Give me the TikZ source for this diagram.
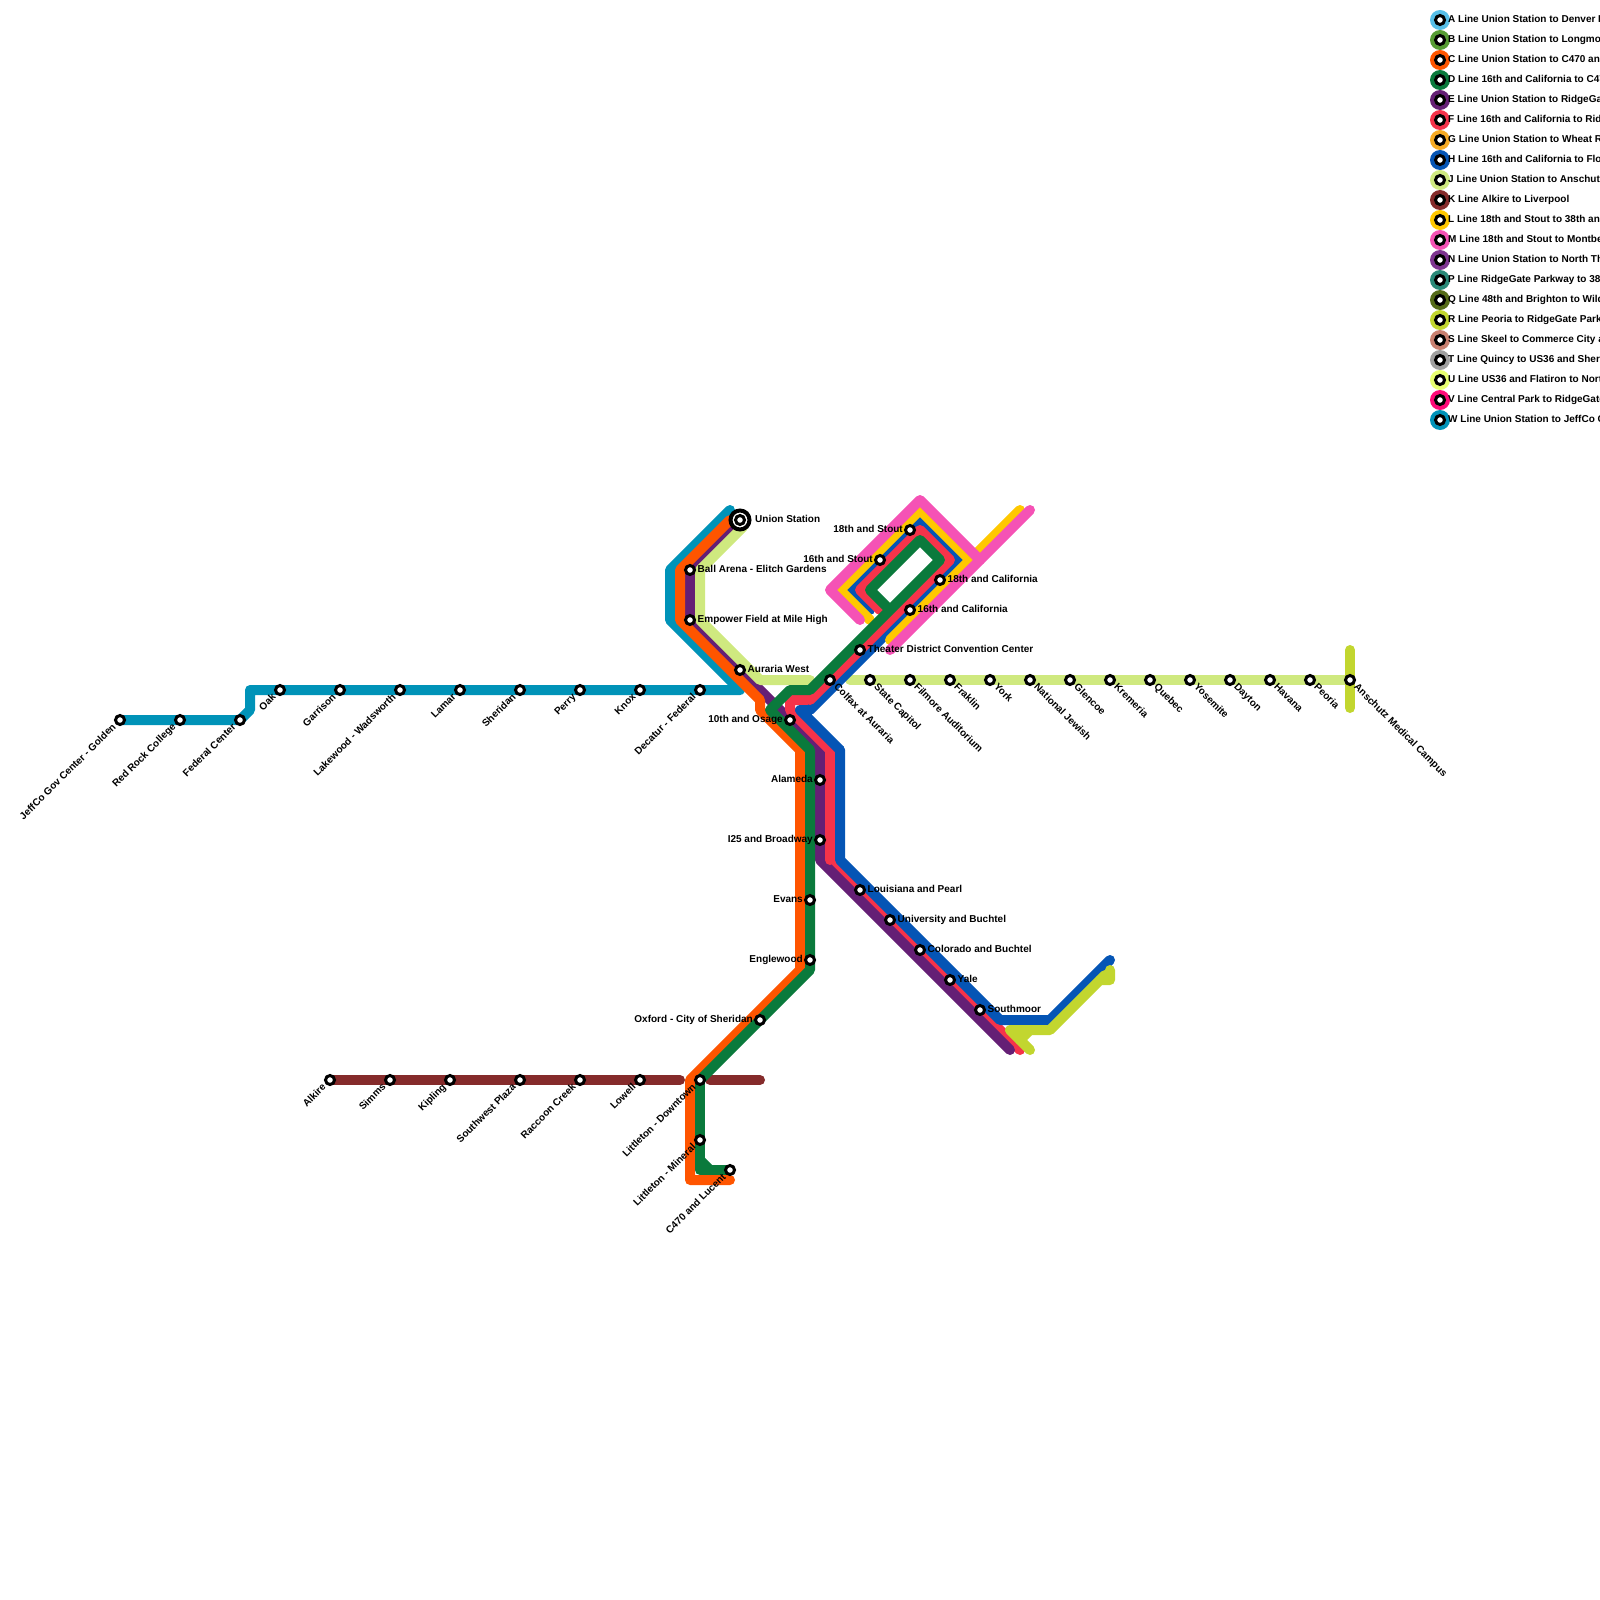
\documentclass[tikz,border=0pt]{standalone}
\usepackage{fontspec}
\setmainfont{Liberation Sans}
\pgfdeclarelayer{bg}
\pgfsetlayers{bg,main}
\definecolor{cA}{HTML}{57BFE8}
\definecolor{cB}{HTML}{569C33}
\definecolor{cC}{HTML}{FF5500}
\definecolor{cD}{HTML}{0A7A3C}
\definecolor{cE}{HTML}{651F75}
\definecolor{cF}{HTML}{F5334A}
\definecolor{cG}{HTML}{F7AB23}
\definecolor{cH}{HTML}{0555B5}
\definecolor{cJ}{HTML}{CFE97F}
\definecolor{cK}{HTML}{852B2B}
\definecolor{cL}{HTML}{FFC800}
\definecolor{cM}{HTML}{F552B5}
\definecolor{cN}{HTML}{7E3490}
\definecolor{cP}{HTML}{2A8A78}
\definecolor{cQ}{HTML}{556B18}
\definecolor{cR}{HTML}{C2D62F}
\definecolor{cS}{HTML}{C98070}
\definecolor{cT}{HTML}{A0A0A0}
\definecolor{cU}{HTML}{E8FF70}
\definecolor{cV}{HTML}{FF0A78}
\definecolor{cW}{HTML}{0093B8}
\tikzset{
  route/.style={line width=10pt,line cap=round,line join=round,draw=#1},
  stn/.style={circle,draw=black,fill=white,line width=3pt,minimum size=9pt,inner sep=0pt},
  hub/.style={circle,draw=black,fill=white,line width=4pt,minimum size=19pt,inner sep=0pt},
  disc/.style={circle,fill=#1,minimum size=20pt,inner sep=0pt},
  lbl/.style={inner sep=0pt,text height=7.2pt,text depth=0pt,font=\fontsize{10}{12}\selectfont\bfseries},
}
\newcommand\stR[4]{\node[stn] (#1) at (#2,#3) {}; \node[lbl,anchor=west] (#1-l) at (#2+7.5,#3-1) {#4};}
\newcommand\stL[4]{\node[stn] (#1) at (#2,#3) {}; \node[lbl,anchor=east] (#1-l) at (#2-7,#3-1) {#4};}
\newcommand\stDL[4]{\node[stn] (#1) at (#2,#3) {}; \node[lbl,anchor=east,rotate=45] (#1-l) at (#2-6,#3+5) {#4};}
\newcommand\stDR[4]{\node[stn] (#1) at (#2,#3) {}; \node[lbl,anchor=west,rotate=-45] (#1-l) at (#2+6,#3+5) {#4};}
\newcommand\leg[4]{\node[disc=c#1] (leg#1d) at (1440,#2) {}; \node[stn] (leg#1) at (1440,#2) {}; \node[lbl,anchor=west] (leg#1-l) at (1448,#2-1) {#3};}
\begin{document}
\begin{tikzpicture}[x=1pt,y=-1pt]
\useasboundingbox (0,0) rectangle (1600,1600);
\begin{scope}
\clip (0,0) rectangle (1600,1600);
\leg{A}{20}{A Line Union Station to Denver In}{}
\leg{B}{40}{B Line Union Station to Longmon}{}
\leg{C}{60}{C Line Union Station to C470 and}{}
\leg{D}{80}{D Line 16th and California to C470}{}
\leg{E}{100}{E Line Union Station to RidgeGat}{}
\leg{F}{120}{F Line 16th and California to Ridg}{}
\leg{G}{140}{G Line Union Station to Wheat Ri}{}
\leg{H}{160}{H Line 16th and California to Flor}{}
\leg{J}{180}{J Line Union Station to Anschutz}{}
\leg{K}{200}{K Line Alkire to Liverpool}{}
\leg{L}{220}{L Line 18th and Stout to 38th and}{}
\leg{M}{240}{M Line 18th and Stout to Montbel}{}
\leg{N}{260}{N Line Union Station to North Th}{}
\leg{P}{280}{P Line RidgeGate Parkway to 38t}{}
\leg{Q}{300}{Q Line 48th and Brighton to Wild}{}
\leg{R}{320}{R Line Peoria to RidgeGate Parkw}{}
\leg{S}{340}{S Line Skeel to Commerce City a}{}
\leg{T}{360}{T Line Quincy to US36 and Sherid}{}
\leg{U}{380}{U Line US36 and Flatiron to Nort}{}
\leg{V}{400}{V Line Central Park to RidgeGate}{}
\leg{W}{420}{W Line Union Station to JeffCo G}{}
\end{scope}
% stations
\stDL{jeffco}{120}{720}{JeffCo Gov Center - Golden}
\stDL{redrock}{180}{720}{Red Rock College}
\stDL{federal}{240}{720}{Federal Center}
\stDL{oak}{280}{690}{Oak}
\stDL{garrison}{340}{690}{Garrison}
\stDL{lakewood}{400}{690}{Lakewood - Wadsworth}
\stDL{lamar}{460}{690}{Lamar}
\stDL{sheridan}{520}{690}{Sheridan}
\stDL{perry}{580}{690}{Perry}
\stDL{knox}{640}{690}{Knox}
\stDL{decatur}{700}{690}{Decatur - Federal}
\stDL{alkire}{330}{1080}{Alkire}
\stDL{simms}{390}{1080}{Simms}
\stDL{kipling}{450}{1080}{Kipling}
\stDL{swplaza}{520}{1080}{Southwest Plaza}
\stDL{raccoon}{580}{1080}{Raccoon Creek}
\stDL{lowell}{640}{1080}{Lowell}
\stDL{downtown}{700}{1080}{Littleton - Downtown}
\stDL{mineral}{700}{1140}{Littleton - Mineral}
\stDL{lucent}{730}{1170}{C470 and Lucent}
\stR{ball}{690}{570}{Ball Arena - Elitch Gardens}
\stR{empower}{690}{620}{Empower Field at Mile High}
\stR{auraria}{740}{670}{Auraria West}
\stR{theater}{860}{650}{Theater District Convention Center}
\stR{cal16}{910}{610}{16th and California}
\stR{cal18}{940}{580}{18th and California}
\stR{louisiana}{860}{890}{Louisiana and Pearl}
\stR{university}{890}{920}{University and Buchtel}
\stR{colorado}{920}{950}{Colorado and Buchtel}
\stR{yale}{950}{980}{Yale}
\stR{southmoor}{980}{1010}{Southmoor}
\stL{stout18}{910}{530}{18th and Stout}
\stL{stout16}{880}{560}{16th and Stout}
\stL{osage}{790}{720}{10th and Osage}
\stL{alameda}{820}{780}{Alameda}
\stL{broadway}{820}{840}{I25 and Broadway}
\stL{evans}{810}{900}{Evans}
\stL{englewood}{810}{960}{Englewood}
\stL{oxford}{760}{1020}{Oxford - City of Sheridan}
\stDR{colfax}{830}{680}{Colfax at Auraria}
\stDR{capitol}{870}{680}{State Capitol}
\stDR{filmore}{910}{680}{Filmore Auditorium}
\stDR{franklin}{950}{680}{Fraklin}
\stDR{york}{990}{680}{York}
\stDR{jewish}{1030}{680}{National Jewish}
\stDR{glencoe}{1070}{680}{Glencoe}
\stDR{kremeria}{1110}{680}{Kremeria}
\stDR{quebec}{1150}{680}{Quebec}
\stDR{yosemite}{1190}{680}{Yosemite}
\stDR{dayton}{1230}{680}{Dayton}
\stDR{havana}{1270}{680}{Havana}
\stDR{peoria}{1310}{680}{Peoria}
\stDR{anschutz}{1350}{680}{Anschutz Medical Campus}
\node[hub] (unionring) at (740,520) {};
\node[stn] (union) at (740,520) {};
\node[lbl,anchor=west] (union-l) at (755,519) {Union Station};
% routes
\begin{pgfonlayer}{bg}
\draw[route=cF] (1020,1050) -- (830,860);
\draw[route=cW] (jeffco.center) -- (federal.center) -- (250,710) -- (250,690) -- (740,690) -- (670,620) -- (670,570) -- (730,510);
\draw[route=cE] (union.center) -- (ball.center) -- (empower.center) -- (820,750) -- (broadway.center) -- (820,860) -- (1010,1050);
\draw[route=cC] (730,520) -- (680,570) -- (680,620) -- (760,700) -- (760,710) -- (800,750) -- (800,970) -- (690,1080) -- (690,1180) -- (730,1180);
\draw[route=cJ] (743,527) -- (700,570) -- (700,620) -- (760,680) -- (810,680);
\draw[route=cJ] (850,680) -- (anschutz.center);
\draw[route=cR] (1350,650) -- (anschutz.center) -- (1350,708);
\draw[route=cK] (alkire.center) -- (680,1080);
\draw[route=cK] (710,1080) -- (760,1080);
\draw[route=cF] (830,860) -- (830,750) -- (790,710) -- (790,700) -- (810,700);
\draw[route=cH] (840,750) -- (800,710) -- (810,710) -- (960,560) -- (920,520) -- (850,590) -- (870,610);
\draw[route=cH] (840,750) -- (840,860) -- (1000,1020) -- (1050,1020) -- (1110,960);
\draw[route=cR] (1110,970) -- (1110,980) -- (1100,980) -- (1050,1030) -- (1010,1030) -- (1030,1050);
\draw[route=cR] (1020,1040) -- (1030,1030);
\draw[route=cR] (1105,975) -- (1100,980);
\draw[route=cL] (890,640) -- (1020,510);
\draw[route=cL] (970,560) -- (920,510) -- (840,590) -- (870,620);
\draw[route=cM] (890,650) -- (1030,510);
\draw[route=cM] (980,560) -- (920,500) -- (830,590) -- (860,620);
\draw[route=cF] (810,700) -- (950,560) -- (920,530) -- (860,590) -- (880,610);
\draw[route=cD] (downtown.center) -- (810,970) -- (810,750) -- (770,710) -- (790,690) -- (810,690) -- (940,560) -- (920,540) -- (870,590) -- (890,610);
\draw[route=cD] (downtown.center) -- (700,1170) -- (lucent.center);
\draw[route=cD] (700,1160) -- (710,1170);
\end{pgfonlayer}
\end{tikzpicture}
\end{document}
